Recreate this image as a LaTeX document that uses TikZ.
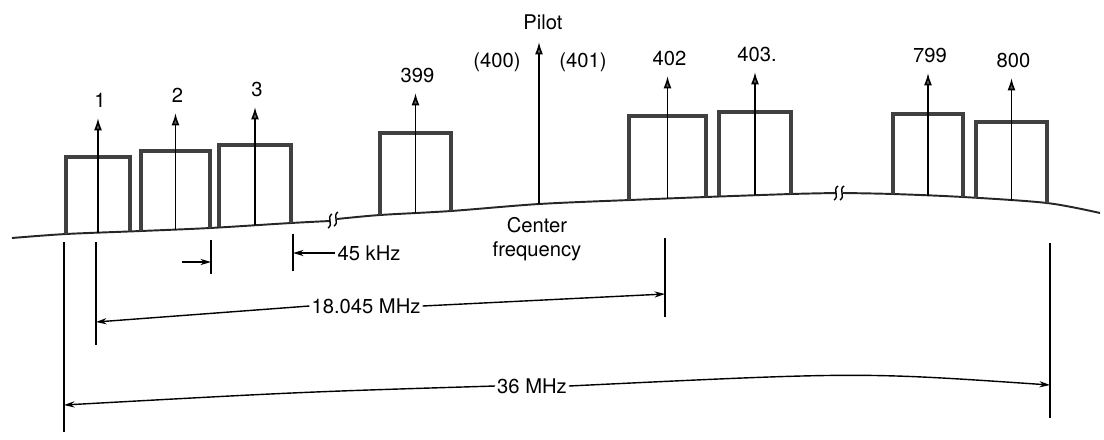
\documentclass[tikz,border=0pt]{standalone}
\usepackage{fontspec}
\setmainfont{TeX Gyre Heros}
\usetikzlibrary{arrows.meta, calc, positioning}

\begin{document}
\begin{tikzpicture}[
    % One unit is one pixel of the reference, y runs downwards
    x={(0.02cm,0cm)},
    y={(0cm,-0.02cm)},
    >=Stealth,
    base/.style={line width=1.1pt, black!85},
    chbox/.style={line width=2pt, black!75, line join=miter},
    carrier/.style={line width=0.9pt, black, -{Latex[length=7pt,width=4.5pt,fill=black!60]}},
    tick/.style={line width=0.7pt, black},
    dim/.style={line width=0.8pt, black, -{Stealth[length=6pt,width=3.5pt,fill=black!60]}},
    txt/.style={font=\fontsize{11.5}{13.5}\selectfont, inner sep=1pt}
]
    \useasboundingbox (0,0) rectangle (1104,439);

    % --- Baseline with the two breaks ---
    \draw[base] plot[smooth] coordinates {(12,238) (66,234) (141,231) (210,228) (291,223) (330,221)};
    \draw[base] plot[smooth] coordinates {(337,219) (380,215) (451,211) (539,204) (630,200) (706,197) (791,194) (836,193)};
    \draw[base] plot[smooth] coordinates {(843,193) (893,194) (963,197) (1047,203) (1100,213)};
    \foreach \bx/\by in {330/221, 336/219, 836/193, 842/193} {
        \draw[line width=0.8pt] (\bx+2,\by-7) .. controls (\bx-4,\by-3) and (\bx+4,\by+3) .. (\bx-2,\by+7);
    }

    % --- Channels: box, carrier and number ---
    \foreach \nm/\xl/\xr/\yt/\yl/\yr/\yp/\lab in {
        1/66/130/157/234/231/118/1,
        2/141/210/151/231/228/113/2,
        3/219/291/145/227/223/107/3,
        399/380/451/133/215/211/93/399,
        402/629/706/116/200/197/76/402,
        403/719/791/112/196/194/72/403.,
        799/893/963/114/194/197/73/799,
        800/976/1047/122/198/203/78/800} {
        \draw[chbox] (\xl,\yl) |- (\xr,\yt) -- (\xr,\yr);
        \coordinate (c\nm) at ({(\xl+\xr)/2},{(\yl+\yr)/2});
        \coordinate (t\nm) at ({(\xl+\xr)/2},\yp);
        \draw[carrier] (c\nm) -- (t\nm);
        \node[txt] (lab\nm) at ({(\xl+\xr)/2+2},{\yp-18}) {\lab};
    }

    % --- Pilot ---
    \coordinate (pilotfoot) at (539,204);
    \coordinate (pilottip) at (539,42);
    \draw[carrier] (pilotfoot) -- (pilottip);
    \node[txt] (pilot) at (543,22) {Pilot};
    \node[txt] (ch400) at (497,62) {(400)};
    \node[txt] (ch401) at (583,62) {(401)};
    \node[txt, align=center] (center) at (537,239) {Center\\frequency};

    % --- Extension lines ---
    \coordinate (e36l) at (64,242);   \coordinate (e36lb) at (64,432);
    \coordinate (e18l) at (96,242);   \coordinate (e18lb) at (96,345);
    \coordinate (eg1) at (211,240);   \coordinate (eg1b) at (211,274);
    \coordinate (eg2) at (293,234);   \coordinate (eg2b) at (293,271);
    \coordinate (e18r) at (665,238);  \coordinate (e18rb) at (665,317);
    \coordinate (e36r) at (1050,243); \coordinate (e36rb) at (1050,418);
    \foreach \a/\b in {e36l/e36lb, e18l/e18lb, eg1/eg1b, eg2/eg2b, e18r/e18rb, e36r/e36rb}
        \draw[tick] (\a) -- (\b);

    % --- Guard band ---
    \coordinate (gfrom) at (182,262);
    \coordinate (gto) at (211,262);
    \draw[dim] (gfrom) -- (gto);
    \node[txt] (guard) at (369,253) {45 kHz};
    \draw[dim] (guard.west) -- (guard.west -| eg2);

    % --- 18.045 MHz ---
    \node[txt] (mhz18) at (366,306) {18.045 MHz};
    \coordinate (d18l) at (96,322);
    \coordinate (d18r) at (665,294);
    \draw[dim] (mhz18.west) -- (d18l);
    \draw[dim] (mhz18.east) -- (d18r);

    % --- 36 MHz ---
    \node[txt] (mhz36) at (532,386) {36 MHz};
    \coordinate (d36l) at (64,405);
    \coordinate (d36r) at (1050,385);
    \draw[dim] (mhz36.west) .. controls (300,392) .. (d36l);
    \draw[dim] (mhz36.east) .. controls (860,372) .. (d36r);
\end{tikzpicture}
\end{document}
